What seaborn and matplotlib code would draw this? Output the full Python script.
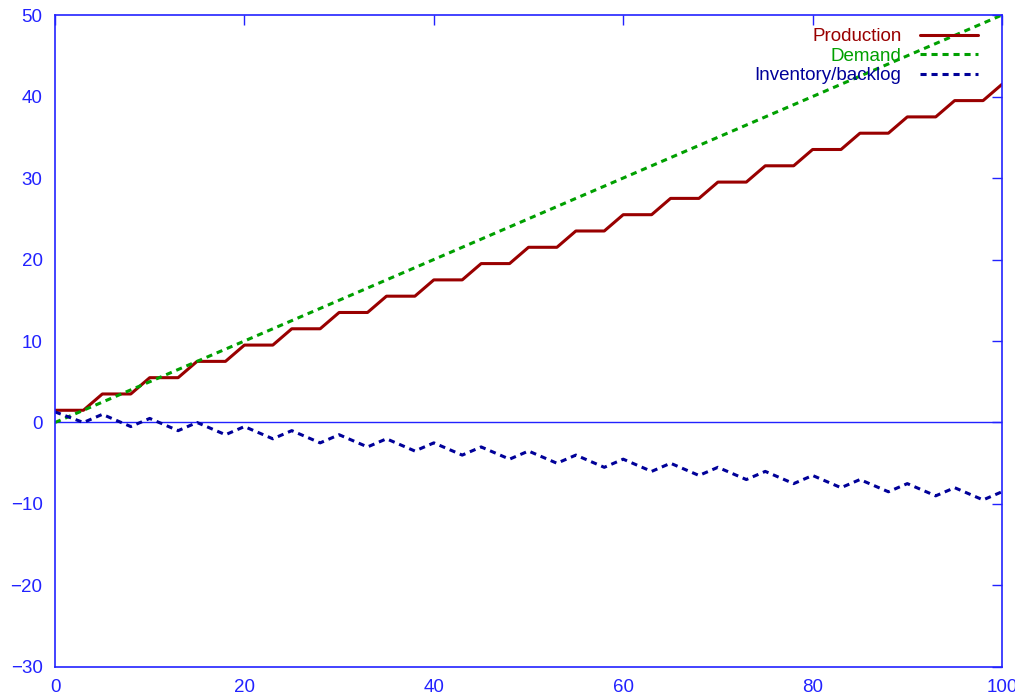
import matplotlib
matplotlib.use("Agg")
import matplotlib.pyplot as plt
import seaborn as sns

# ── data ────────────────────────────────────────────────────────────────────
PROD_X = [0, 3, 5, 8, 10, 13, 15, 18, 20, 23, 25, 28, 30, 33, 35, 38, 40, 43,
          45, 48, 50, 53, 55, 58, 60, 63, 65, 68, 70, 73, 75, 78, 80, 83, 85,
          88, 90, 93, 95, 98, 100]
PROD_Y = [1.5, 1.5, 3.5, 3.5, 5.5, 5.5, 7.5, 7.5, 9.5, 9.5, 11.5, 11.5, 13.5,
          13.5, 15.5, 15.5, 17.5, 17.5, 19.5, 19.5, 21.5, 21.5, 23.5, 23.5,
          25.5, 25.5, 27.5, 27.5, 29.5, 29.5, 31.5, 31.5, 33.5, 33.5, 35.5,
          35.5, 37.5, 37.5, 39.5, 39.5, 41.5]

DEMAND_X = [0, 100]
DEMAND_Y = [0, 50]

INV_X = [0, 3, 5, 8, 10, 13, 15, 18, 20, 23, 25, 28, 30, 33, 35, 38, 40, 43,
         45, 48, 50, 53, 55, 58, 60, 63, 65, 68, 70, 73, 75, 78, 80, 83, 85,
         88, 90, 93, 95, 98, 100]
INV_Y = [1.3, 0.0, 1.0, -0.5, 0.5, -1.0, 0.0, -1.5, -0.5, -2.0, -1.0, -2.5,
         -1.5, -3.0, -2.0, -3.5, -2.5, -4.0, -3.0, -4.5, -3.5, -5.0, -4.0,
         -5.5, -4.5, -6.0, -5.0, -6.5, -5.5, -7.0, -6.0, -7.5, -6.5, -8.0,
         -7.0, -8.5, -7.5, -9.0, -8.0, -9.5, -8.5]

X_TICKS = [0, 20, 40, 60, 80, 100]
Y_TICKS = [-30, -20, -10, 0, 10, 20, 30, 40, 50]

AXIS_BLUE = "#2222ff"
COLORS = {"prod": "#990000", "demand": "#00a000", "inv": "#000099"}
FS = 13.5

sns.set_style("white")
plt.rcParams["font.family"] = ["Liberation Sans", "DejaVu Sans"]

fig = plt.figure(figsize=(10.15, 6.96), dpi=100)
ax = fig.add_axes([0.0542, 0.0417, 0.9330, 0.9367])

sns.lineplot(x=PROD_X, y=PROD_Y, ax=ax, color=COLORS["prod"], lw=2.2,
             label="Production", estimator=None, sort=False)
sns.lineplot(x=DEMAND_X, y=DEMAND_Y, ax=ax, color=COLORS["demand"], lw=2.2,
             label="Demand", estimator=None, sort=False)
sns.lineplot(x=INV_X, y=INV_Y, ax=ax, color=COLORS["inv"], lw=2.2,
             label="Inventory/backlog", estimator=None, sort=False)
ax.lines[1].set_dashes((2.0, 1.6))
ax.lines[2].set_dashes((2.0, 1.6))

ax.axhline(0, color=AXIS_BLUE, lw=1.0, zorder=0)

ax.set_xlim(0, 100)
ax.set_ylim(-30, 50)
ax.set_xticks(X_TICKS)
ax.set_yticks(Y_TICKS)
ax.tick_params(direction="in", length=7.2, width=1, color=AXIS_BLUE,
               labelcolor=AXIS_BLUE, labelsize=FS, top=True, right=True)
ax.tick_params(axis="y", pad=9)
ax.tick_params(axis="x", pad=9)
for sp in ax.spines.values():
    sp.set_color(AXIS_BLUE)
    sp.set_linewidth(1.2)
    sp.set_visible(True)

ax.legend(loc="upper right", bbox_to_anchor=(0.975, 0.98), frameon=False,
          markerfirst=False, labelcolor="linecolor", fontsize=FS,
          handlelength=3.1, handletextpad=1.0, labelspacing=0.13,
          borderpad=0.0, borderaxespad=0.0)

fig.savefig("out.png", dpi=100)
